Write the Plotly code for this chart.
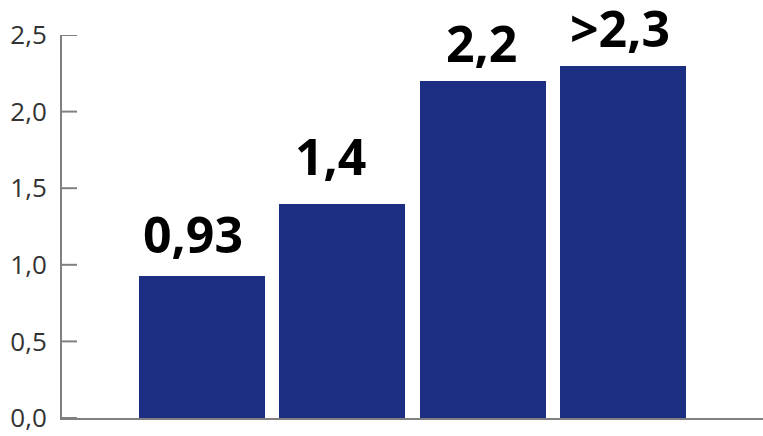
import plotly.graph_objects as go

categories = [0, 1, 2, 3]
values = [0.93, 1.4, 2.2, 2.3]
value_labels = ["0,93", "1,4", "2,2", ">2,3"]
tick_values = [0.0, 0.5, 1.0, 1.5, 2.0, 2.5]
tick_labels = ["0,0", "0,5", "1,0", "1,5", "2,0", "2,5"]

# small pixel nudges of the value labels (x, y) as placed in the original artwork
label_nudges = [(-9, 4), (-12, 10), (-1, 0), (-3, 0)]

bar_color = "#1b2e82"
axis_color = "#808080"

fig = go.Figure()
fig.add_trace(go.Bar(
    x=categories, y=values, width=0.9,
    marker=dict(color=bar_color, line=dict(width=0)),
    hoverinfo="skip",
))

for x, y, t, (dx, dy) in zip(categories, values, value_labels, label_nudges):
    fig.add_annotation(
        x=x, y=y, text="<b>%s</b>" % t, showarrow=False,
        xanchor="center", yanchor="bottom", xshift=dx, yshift=2 + dy,
        font=dict(family="Open Sans", size=50, color="#000000"),
    )

# inward tick marks on the value axis
for tv in tick_values:
    fig.add_shape(
        type="line", xref="x domain", yref="y",
        x0=0, x1=15 / 701, y0=tv, y1=tv,
        line=dict(color=axis_color, width=2), layer="above",
    )

fig.update_layout(
    width=763, height=436,
    margin=dict(l=62, r=0, t=35, b=18),
    paper_bgcolor="white", plot_bgcolor="white",
    showlegend=False,
    bargap=0,
)
fig.update_xaxes(
    range=[-1.0, 4.0], showticklabels=False, ticks="", showgrid=False,
    zeroline=False, showline=True, linecolor=axis_color, linewidth=2,
)
fig.update_yaxes(
    range=[0, 2.5], tickvals=tick_values, ticktext=tick_labels,
    ticks="", showgrid=False, zeroline=False,
    showline=True, linecolor=axis_color, linewidth=2,
    tickfont=dict(family="Open Sans", size=26, color="#333333"),
    ticklabelstandoff=8,
)

fig.write_html(
    "out.html",
    config={"displayModeBar": False},
    post_script="document.body.style.margin='0';document.body.style.overflow='hidden';",
)
